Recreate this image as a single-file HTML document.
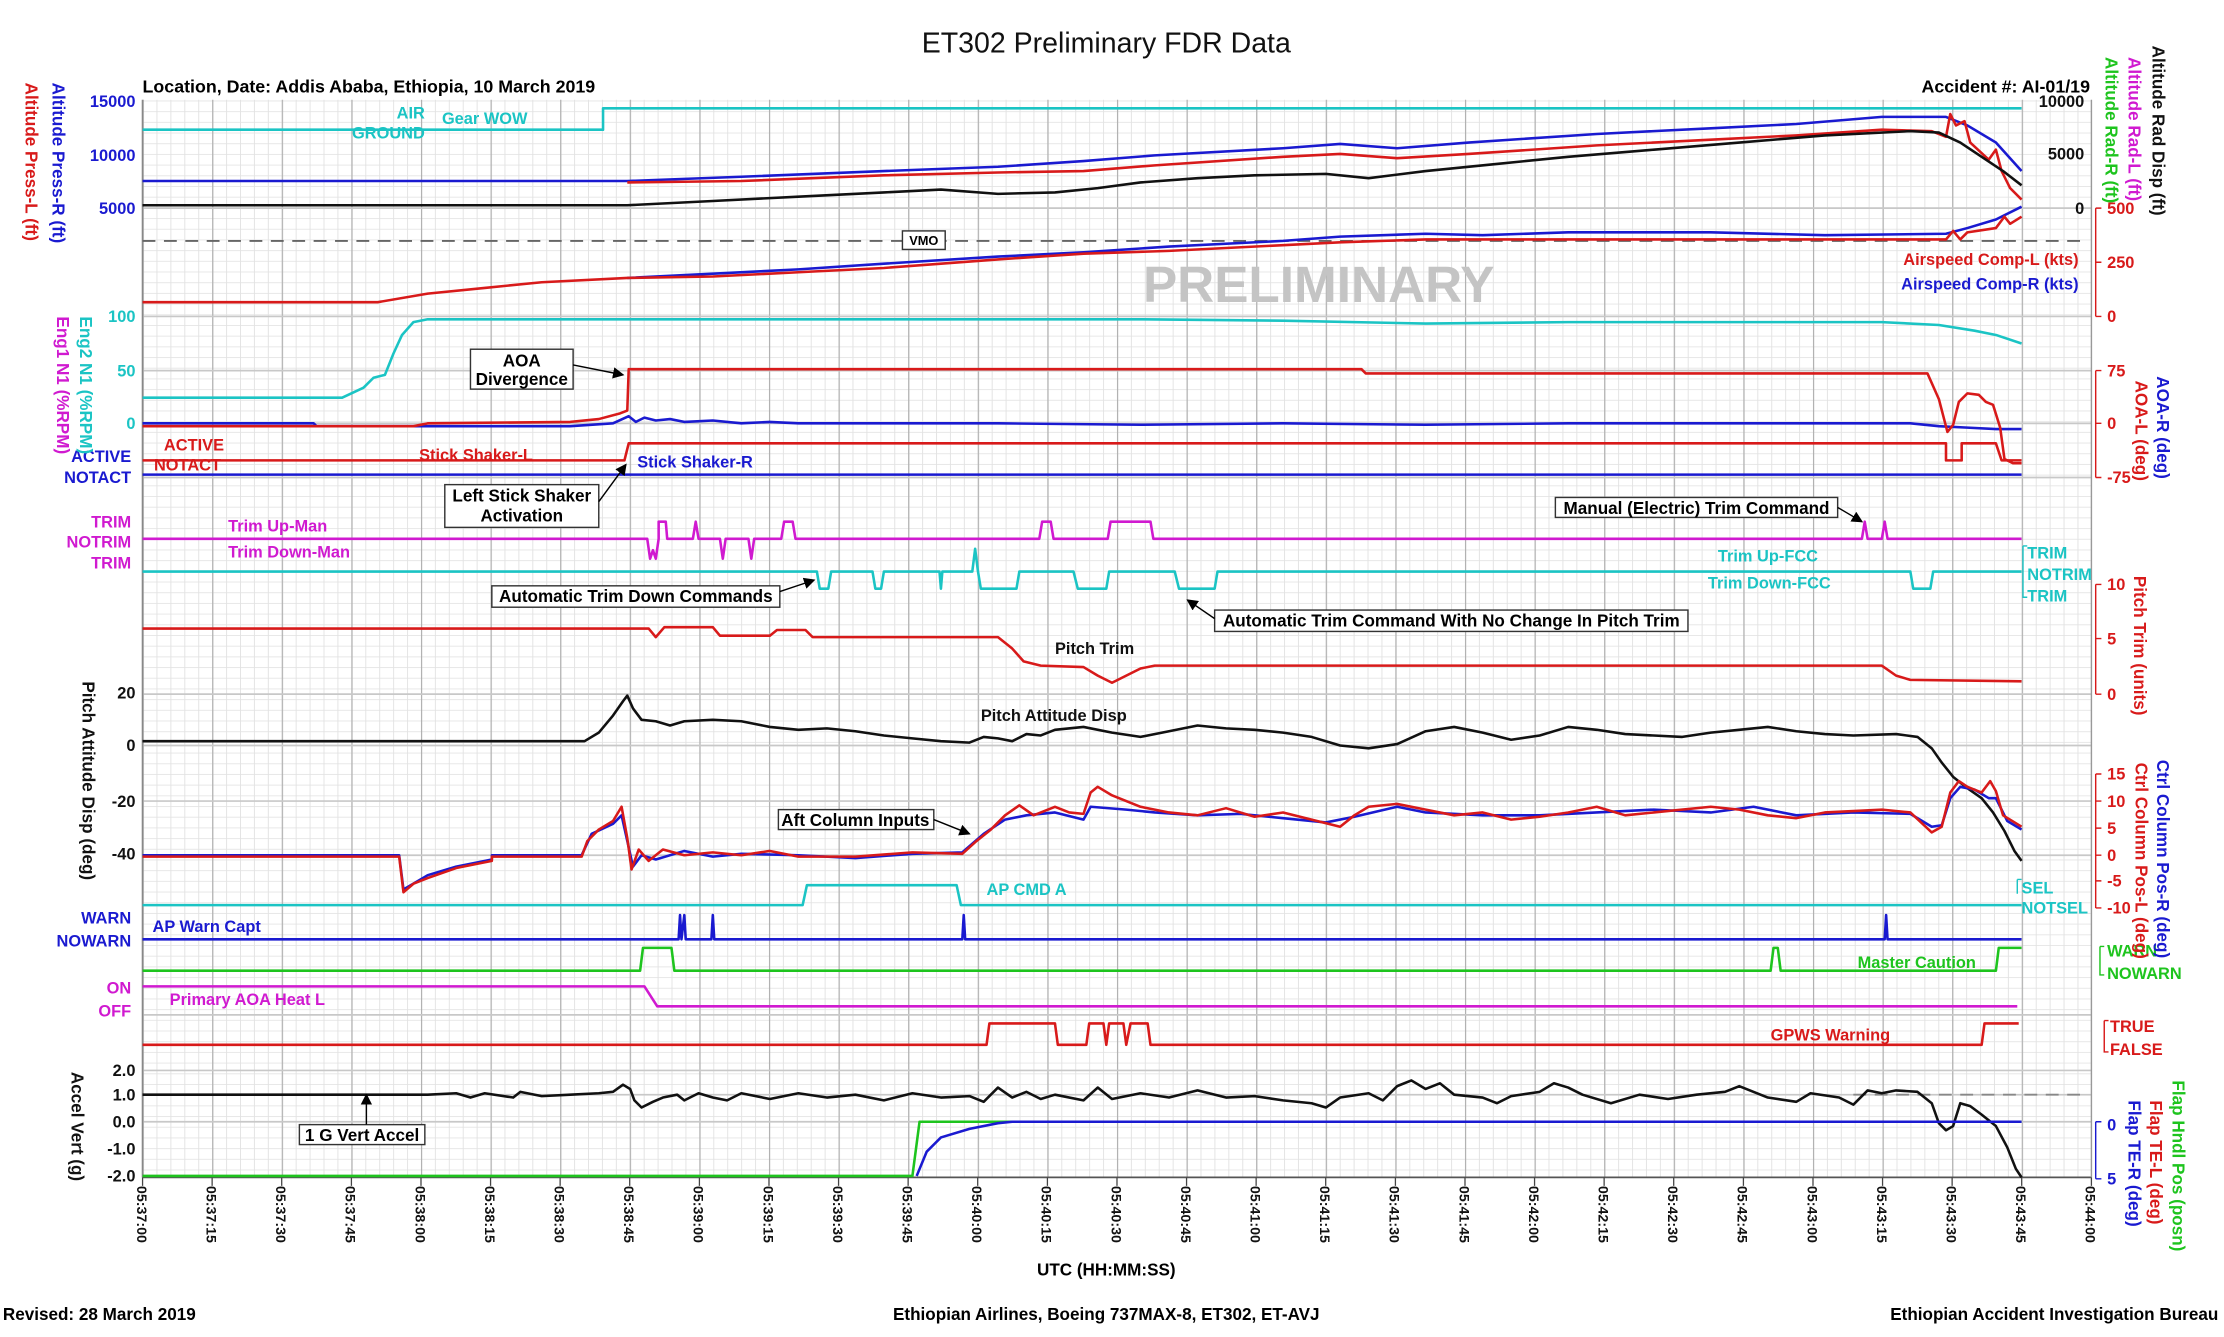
<!DOCTYPE html>
<html><head><meta charset="utf-8"><style>
html,body{margin:0;padding:0;background:#fff;}
svg{display:block;font-family:"Liberation Sans",Arial,sans-serif;font-size:11.5px;}
.b{font-weight:bold;}
.box{fill:#fff;stroke:#333;stroke-width:1;}
.dl{fill:none;stroke-width:1.8;stroke-linejoin:round;}
</style></head><body>
<svg width="2224" height="1337" viewBox="0 0 1560 938" preserveAspectRatio="none" xmlns="http://www.w3.org/2000/svg">
<defs>
<pattern id="gv" x="100" y="0" width="9.7643" height="10" patternUnits="userSpaceOnUse"><line x1="0.3" y1="0" x2="0.3" y2="10" stroke="#e2e2e2" stroke-width="0.7"/></pattern>
<pattern id="gh" x="0" y="70.5" width="10" height="7.5" patternUnits="userSpaceOnUse"><line x1="0" y1="0.3" x2="10" y2="0.3" stroke="#e6e6e6" stroke-width="0.7"/></pattern>
<pattern id="gm" x="100" y="0" width="48.82" height="10" patternUnits="userSpaceOnUse"><line x1="0.4" y1="0" x2="0.4" y2="10" stroke="#b0b0b0" stroke-width="0.9"/></pattern>
<marker id="ar" markerWidth="8" markerHeight="8" refX="7" refY="4" orient="auto"><path d="M0,0 L8,4 L0,8z" fill="#000"/></marker>
</defs>
<rect x="0" y="0" width="1560" height="938" fill="#fff"/>
<rect x="100" y="70" width="1367" height="756" fill="url(#gh)"/>
<rect x="100" y="70" width="1367" height="756" fill="url(#gv)"/>
<rect x="100" y="70" width="1367" height="756" fill="url(#gm)"/>
<g stroke="#c8c8c8" stroke-width="1.2">
<line x1="100" y1="146" x2="1467" y2="146"/><line x1="100" y1="222" x2="1467" y2="222"/>
<line x1="100" y1="260" x2="1467" y2="260"/><line x1="100" y1="297" x2="1467" y2="297"/>
<line x1="100" y1="335" x2="1467" y2="335"/><line x1="100" y1="487" x2="1467" y2="487"/>
<line x1="100" y1="523" x2="1467" y2="523"/><line x1="100" y1="562" x2="1467" y2="562"/>
<line x1="100" y1="600" x2="1467" y2="600"/><line x1="100" y1="751" x2="1467" y2="751"/>
<line x1="100" y1="768" x2="1467" y2="768"/><line x1="100" y1="787" x2="1467" y2="787"/>
<line x1="100" y1="712" x2="1467" y2="712"/>
</g>
<line x1="100" y1="70" x2="100" y2="826" stroke="#888" stroke-width="1.2"/>
<line x1="100" y1="826" x2="1467" y2="826" stroke="#555" stroke-width="1.2"/>
<line x1="1467" y1="70" x2="1467" y2="826" stroke="#999" stroke-width="1"/>
<g stroke="#444" stroke-width="0.9">
<path d="M100,826v6M148.8,826v6M197.6,826v6M246.5,826v6M295.3,826v6M344.1,826v6M392.9,826v6M441.7,826v6M490.6,826v6M539.4,826v6M588.2,826v6M637,826v6M685.8,826v6M734.7,826v6M783.5,826v6M832.3,826v6M881.1,826v6M929.9,826v6M978.8,826v6M1027.6,826v6M1076.4,826v6M1125.2,826v6M1174,826v6M1222.9,826v6M1271.7,826v6M1320.5,826v6M1369.3,826v6M1418.1,826v6M1467,826v6"/>
</g>
<g class="b" style="font-size:10px" fill="#111">
<text transform="translate(96,832) rotate(90)">05:37:00</text><text transform="translate(144.8,832) rotate(90)">05:37:15</text><text transform="translate(193.6,832) rotate(90)">05:37:30</text><text transform="translate(242.5,832) rotate(90)">05:37:45</text><text transform="translate(291.3,832) rotate(90)">05:38:00</text><text transform="translate(340.1,832) rotate(90)">05:38:15</text><text transform="translate(388.9,832) rotate(90)">05:38:30</text><text transform="translate(437.7,832) rotate(90)">05:38:45</text><text transform="translate(486.6,832) rotate(90)">05:39:00</text><text transform="translate(535.4,832) rotate(90)">05:39:15</text><text transform="translate(584.2,832) rotate(90)">05:39:30</text><text transform="translate(633,832) rotate(90)">05:39:45</text><text transform="translate(681.8,832) rotate(90)">05:40:00</text><text transform="translate(730.7,832) rotate(90)">05:40:15</text><text transform="translate(779.5,832) rotate(90)">05:40:30</text><text transform="translate(828.3,832) rotate(90)">05:40:45</text><text transform="translate(877.1,832) rotate(90)">05:41:00</text><text transform="translate(925.9,832) rotate(90)">05:41:15</text><text transform="translate(974.8,832) rotate(90)">05:41:30</text><text transform="translate(1023.6,832) rotate(90)">05:41:45</text><text transform="translate(1072.4,832) rotate(90)">05:42:00</text><text transform="translate(1121.2,832) rotate(90)">05:42:15</text><text transform="translate(1170,832) rotate(90)">05:42:30</text><text transform="translate(1218.9,832) rotate(90)">05:42:45</text><text transform="translate(1267.7,832) rotate(90)">05:43:00</text><text transform="translate(1316.5,832) rotate(90)">05:43:15</text><text transform="translate(1365.3,832) rotate(90)">05:43:30</text><text transform="translate(1414.1,832) rotate(90)">05:43:45</text><text transform="translate(1463,832) rotate(90)">05:44:00</text>
</g>
<text x="776" y="37" style="font-size:20px" text-anchor="middle" fill="#111">ET302 Preliminary FDR Data</text>
<text x="100" y="65" class="b" style="font-size:12.5px">Location, Date: Addis Ababa, Ethiopia, 10 March 2019</text>
<text x="1466" y="65" class="b" style="font-size:12.5px" text-anchor="end">Accident #: AI-01/19</text>
<text x="776" y="895" class="b" style="font-size:12px" text-anchor="middle">UTC (HH:MM:SS)</text>
<text x="2" y="926" class="b" style="font-size:12px">Revised: 28 March 2019</text>
<text x="776" y="926" class="b" style="font-size:12px" text-anchor="middle">Ethiopian Airlines, Boeing 737MAX-8, ET302, ET-AVJ</text>
<text x="1556" y="926" class="b" style="font-size:12px" text-anchor="end">Ethiopian Accident Investigation Bureau</text>
<text x="925" y="212" style="font-size:36px;font-weight:bold" fill="#c4c4c4" text-anchor="middle">PRELIMINARY</text>
<g class="b" text-anchor="end">
<text x="95" y="75" fill="#1a1ad0">15000</text><text x="95" y="113" fill="#1a1ad0">10000</text><text x="95" y="150" fill="#1a1ad0">5000</text>
<text x="95" y="226" fill="#1bc4c4">100</text><text x="95" y="264" fill="#1bc4c4">50</text><text x="95" y="301" fill="#1bc4c4">0</text>
<text x="95" y="490" fill="#111">20</text><text x="95" y="527" fill="#111">0</text><text x="95" y="566" fill="#111">-20</text><text x="95" y="603" fill="#111">-40</text>
<text x="95" y="755" fill="#111">2.0</text><text x="95" y="772" fill="#111">1.0</text><text x="95" y="791" fill="#111">0.0</text><text x="95" y="810" fill="#111">-1.0</text><text x="95" y="829" fill="#111">-2.0</text>
<text x="92" y="324" fill="#1a1ad0">ACTIVE</text><text x="92" y="339" fill="#1a1ad0">NOTACT</text>
<text x="92" y="370" fill="#d01ad0">TRIM</text><text x="92" y="384" fill="#d01ad0">NOTRIM</text><text x="92" y="399" fill="#d01ad0">TRIM</text>
<text x="92" y="648" fill="#1a1ad0">WARN</text><text x="92" y="664" fill="#1a1ad0">NOWARN</text>
<text x="92" y="697" fill="#d01ad0">ON</text><text x="92" y="713" fill="#d01ad0">OFF</text>
<text x="298" y="97" fill="#1bc4c4">GROUND</text><text x="298" y="83" fill="#1bc4c4">AIR</text>
</g>
<g class="b">
<text x="115" y="316" fill="#d81a1a">ACTIVE</text><text x="108" y="330" fill="#d81a1a">NOTACT</text>
<text x="310" y="87" fill="#1bc4c4">Gear WOW</text>
<text x="294" y="323" fill="#d81a1a">Stick Shaker-L</text><text x="447" y="328" fill="#1a1ad0">Stick Shaker-R</text>
<text x="160" y="373" fill="#d01ad0">Trim Up-Man</text><text x="160" y="391" fill="#d01ad0">Trim Down-Man</text>
<text x="1205" y="394" fill="#1bc4c4">Trim Up-FCC</text><text x="1198" y="413" fill="#1bc4c4">Trim Down-FCC</text>
<text x="740" y="459" fill="#111">Pitch Trim</text><text x="688" y="506" fill="#111">Pitch Attitude Disp</text>
<text x="692" y="628" fill="#1bc4c4">AP CMD A</text><text x="107" y="654" fill="#1a1ad0">AP Warn Capt</text>
<text x="1303" y="679" fill="#1ec41e">Master Caution</text><text x="119" y="705" fill="#d01ad0">Primary AOA Heat L</text>
<text x="1242" y="730" fill="#d81a1a">GPWS Warning</text>
<text x="1458" y="186" fill="#d81a1a" text-anchor="end">Airspeed Comp-L (kts)</text>
<text x="1458" y="203" fill="#1a1ad0" text-anchor="end">Airspeed Comp-R (kts)</text>
<text x="1422" y="392" fill="#1bc4c4">TRIM</text><text x="1422" y="407" fill="#1bc4c4">NOTRIM</text><text x="1422" y="422" fill="#1bc4c4">TRIM</text>
<text x="1418" y="627" fill="#1bc4c4">SEL</text><text x="1418" y="641" fill="#1bc4c4">NOTSEL</text>
<text x="1478" y="671" fill="#1ec41e">WARN</text><text x="1478" y="687" fill="#1ec41e">NOWARN</text>
<text x="1480" y="724" fill="#d81a1a">TRUE</text><text x="1480" y="740" fill="#d81a1a">FALSE</text>
<text x="1462" y="75" fill="#111" text-anchor="end">10000</text><text x="1462" y="112" fill="#111" text-anchor="end">5000</text><text x="1462" y="150" fill="#111" text-anchor="end">0</text>
<text x="1478" y="150" fill="#d81a1a">500</text><text x="1478" y="188" fill="#d81a1a">250</text><text x="1478" y="226" fill="#d81a1a">0</text>
<text x="1478" y="264" fill="#d81a1a">75</text><text x="1478" y="301" fill="#d81a1a">0</text><text x="1478" y="339" fill="#d81a1a">-75</text>
<text x="1478" y="414" fill="#d81a1a">10</text><text x="1478" y="452" fill="#d81a1a">5</text><text x="1478" y="491" fill="#d81a1a">0</text>
<text x="1478" y="547" fill="#d81a1a">15</text><text x="1478" y="566" fill="#d81a1a">10</text><text x="1478" y="585" fill="#d81a1a">5</text><text x="1478" y="604" fill="#d81a1a">0</text><text x="1478" y="622" fill="#d81a1a">-5</text><text x="1478" y="641" fill="#d81a1a">-10</text>
<text x="1478" y="793" fill="#1a1ad0">0</text><text x="1478" y="831" fill="#1a1ad0">5</text>
</g>
<g stroke="#d81a1a" stroke-width="1" fill="none">
<path d="M1470,146V222M1470,146h4M1470,184h4M1470,222h4"/>
<path d="M1470,260V335M1470,260h4M1470,297h4M1470,335h4"/>
<path d="M1470,410V487M1470,410h4M1470,448h4M1470,487h4"/>
<path d="M1470,543V637M1470,543h4M1470,562h4M1470,581h4M1470,600h4M1470,618h4M1470,637h4"/>
<path d="M1476,716v22h3M1476,716h3"/>
</g>
<path d="M1470,787V827M1470,787h4M1470,827h4" stroke="#1a1ad0" fill="none"/>
<path d="M1473,664v20h3M1473,664h3" stroke="#1ec41e" fill="none"/>
<path d="M1415,617v10M1415,617h3" stroke="#1bc4c4" fill="none"/>
<path d="M1419,383v36h3M1419,383h3" stroke="#1bc4c4" fill="none"/>
<g class="b" style="font-size:12px">
<text transform="translate(18,58) rotate(90)" fill="#d81a1a">Altitude Press-L (ft)</text>
<text transform="translate(37,58) rotate(90)" fill="#1a1ad0">Altitude Press-R (ft)</text>
<text transform="translate(40,222) rotate(90)" fill="#d01ad0">Eng1 N1 (%RPM)</text>
<text transform="translate(56,222) rotate(90)" fill="#1bc4c4">Eng2 N1 (%RPM)</text>
<text transform="translate(58,478) rotate(90)" fill="#111">Pitch Attitude Disp (deg)</text>
<text transform="translate(50,752) rotate(90)" fill="#111">Accel Vert (g)</text>
<text transform="translate(1510,32) rotate(90)" fill="#111">Altitude Rad Disp (ft)</text>
<text transform="translate(1493,40) rotate(90)" fill="#d01ad0">Altitude Rad-L (ft)</text>
<text transform="translate(1477,40) rotate(90)" fill="#1ec41e">Altitude Rad-R (ft)</text>
<text transform="translate(1513,264) rotate(90)" fill="#1a1ad0">AOA-R (deg)</text>
<text transform="translate(1498,267) rotate(90)" fill="#d81a1a">AOA-L (deg)</text>
<text transform="translate(1497,404) rotate(90)" fill="#d81a1a">Pitch Trim (units)</text>
<text transform="translate(1513,533) rotate(90)" fill="#1a1ad0">Ctrl Column Pos-R (deg)</text>
<text transform="translate(1498,535) rotate(90)" fill="#d81a1a">Ctrl Column Pos-L (deg)</text>
<text transform="translate(1524,758) rotate(90)" fill="#1ec41e">Flap Hndl Pos (posn)</text>
<text transform="translate(1508,772) rotate(90)" fill="#d81a1a">Flap TE-L (deg)</text>
<text transform="translate(1493,772) rotate(90)" fill="#1a1ad0">Flap TE-R (deg)</text>
</g>
<line x1="100" y1="169" x2="1462" y2="169" stroke="#666" stroke-width="1.3" stroke-dasharray="9,6"/>
<rect x="633" y="162" width="30" height="13" class="box"/><text x="648" y="172" class="b" style="font-size:9px" text-anchor="middle">VMO</text>
<line x1="1300" y1="768" x2="1465" y2="768" stroke="#888" stroke-width="1.3" stroke-dasharray="9,6"/>
<polyline class="dl" stroke="#1bc4c4" points="100,91 423,91 423,76 1418,76"/>
<polyline class="dl" stroke="#1a1ad0" points="100,127 440,127 520,124 620,120 700,117 760,113 810,109 900,104 940,101 980,104 1030,100 1120,94 1200,90 1260,87 1320,82 1365,82 1380,88 1400,100 1418,120"/>
<polyline class="dl" stroke="#d81a1a" points="440,128 520,127 620,123 700,121 760,120 810,116 900,110 940,108 980,111 1030,108 1120,102 1200,98 1260,95 1320,91 1355,92 1365,96 1368,80 1372,88 1378,85 1382,100 1395,112 1400,105 1404,120 1410,132 1418,140"/>
<polyline class="dl" stroke="#111" points="100,144 440,144 500,141 560,138 620,135 660,133 700,136 740,135 770,132 800,128 840,125 880,123 930,122 960,125 1000,120 1050,115 1100,110 1160,105 1220,100 1280,95 1340,92 1360,93 1375,100 1390,110 1405,120 1418,130"/>
<polyline class="dl" stroke="#1a1ad0" points="440,195 500,192 560,189 620,185 700,180 760,177 820,173 900,169 940,166 1000,164 1040,165 1100,163 1200,163 1280,165 1365,164 1380,160 1400,154 1418,145"/>
<polyline class="dl" stroke="#d81a1a" points="100,212 265,212 300,206 340,202 380,198 440,195 500,194 560,191 620,188 700,182 760,178 820,176 900,172 940,170 1000,168 1100,168 1200,168 1280,168 1365,168 1370,162 1375,168 1380,163 1400,160 1406,152 1410,157 1418,152"/>
<polyline class="dl" stroke="#1bc4c4" points="100,279 240,279 255,272 262,265 270,263 276,248 282,235 290,226 300,224 600,224 800,224 900,225 1000,227 1100,226 1200,226 1320,226 1360,228 1385,232 1400,235 1418,241"/>
<polyline class="dl" stroke="#1a1ad0" points="100,297 220,297 222,299 400,299 430,297 441,292 446,296 452,293 460,295 470,294 480,296 500,295 520,297 540,296 560,297 600,297 700,297 800,298 900,297 1000,298 1100,297 1200,297 1300,297 1340,297 1360,299 1380,300 1400,301 1418,301"/>
<polyline class="dl" stroke="#d81a1a" points="100,299 290,299 300,297 400,296 420,294 435,290 440,288 441,259 955,259 958,262 1352,262 1360,280 1366,303 1370,298 1374,282 1380,276 1388,277 1393,282 1398,284 1403,300 1406,322 1412,325 1418,325"/>
<polyline class="dl" stroke="#d81a1a" points="100,323 438,323 441,311 1365,311 1365,323 1376,323 1376,311 1400,311 1404,323 1418,323"/>
<polyline class="dl" stroke="#1a1ad0" points="100,333 1418,333"/>
<polyline class="dl" stroke="#d01ad0" points="100,378 454,378 456,392 458,386 460,392 462,378 462,366 467,366 468,378 486,378 488,366 490,378 505,378 507,392 509,378 525,378 527,392 529,378 548,378 550,366 556,366 558,378 729,378 731,366 737,366 739,378 777,378 779,366 807,366 809,378 1306,378 1308,366 1310,378 1320,378 1322,366 1324,378 1418,378"/>
<polyline class="dl" stroke="#1bc4c4" points="100,401 573,401 575,413 581,413 583,401 612,401 614,413 618,413 620,401 659,401 660,413 661,401 682,401 684,385 686,401 688,413 713,413 715,401 753,401 756,413 776,413 778,401 824,401 827,413 852,413 854,401 1340,401 1342,413 1354,413 1356,401 1418,401"/>
<polyline class="dl" stroke="#d81a1a" points="100,441 440,441 455,441 460,447 466,440 500,440 505,446 540,446 545,442 565,442 570,447 700,447 710,455 718,464 730,467 760,468 770,474 780,479 790,474 800,469 810,467 1000,467 1200,467 1320,467 1330,474 1340,477 1418,478"/>
<polyline class="dl" stroke="#111" points="100,520 410,520 420,514 430,502 437,492 440,488 444,497 450,505 460,506 470,509 480,506 500,505 520,506 540,510 560,512 580,511 600,513 620,516 640,518 660,520 680,521 690,517 700,518 710,520 720,515 730,516 740,512 760,510 780,514 800,517 820,513 840,509 860,511 880,512 900,514 920,517 940,523 960,525 980,522 1000,513 1020,510 1040,514 1060,519 1080,516 1100,510 1120,512 1140,515 1160,516 1180,517 1200,514 1220,512 1240,510 1260,513 1280,515 1300,516 1330,515 1345,517 1355,525 1362,535 1370,545 1380,553 1390,560 1398,570 1406,583 1413,597 1418,604"/>
<polyline class="dl" stroke="#1a1ad0" points="100,600 280,600 283,624 300,614 320,608 345,603 345,600 408,600 415,585 430,578 436,572 440,590 444,608 450,600 460,603 480,597 500,601 520,599 560,600 600,602 640,599 675,598 690,585 705,575 720,572 740,570 760,575 765,566 790,568 810,570 840,572 870,571 900,574 930,577 950,573 980,566 1000,570 1040,572 1080,572 1120,570 1160,568 1200,570 1230,566 1260,572 1300,570 1340,571 1355,580 1362,579 1368,560 1375,552 1385,554 1395,560 1400,560 1408,576 1418,582"/>
<polyline class="dl" stroke="#d81a1a" points="100,601 280,601 283,626 290,620 300,616 320,609 345,604 345,601 408,601 412,590 420,582 430,576 436,566 440,588 443,610 448,596 455,604 465,596 480,600 500,598 520,600 540,597 560,601 600,601 640,598 675,599 685,590 695,582 705,572 715,565 725,572 740,566 750,570 760,571 765,556 770,552 780,558 790,562 800,566 820,570 840,572 860,567 880,573 900,570 920,575 940,580 950,572 960,566 980,564 1000,568 1020,572 1040,570 1060,575 1080,573 1100,570 1120,566 1140,572 1160,570 1200,566 1220,568 1240,572 1260,574 1280,570 1300,569 1320,568 1340,570 1355,584 1362,580 1368,556 1374,548 1380,552 1390,556 1396,548 1400,555 1405,572 1418,580"/>
<polyline class="dl" stroke="#1bc4c4" points="100,635 563,635 566,621 671,621 674,635 1418,635"/>
<polyline class="dl" stroke="#1a1ad0" stroke-width="1.5" points="100,659 476,659 477,642 478,659 480,642 481,659 499,659 500,642 501,659 675,659 676,642 677,659 1322,659 1323,642 1324,659 1418,659"/>
<polyline class="dl" stroke="#1ec41e" points="100,681 449,681 451,665 471,665 473,681 1242,681 1244,665 1247,665 1249,681 1400,681 1402,665 1418,665"/>
<polyline class="dl" stroke="#d01ad0" points="100,692 452,692 461,706 1415,706"/>
<polyline class="dl" stroke="#d81a1a" points="100,733 692,733 694,718 740,718 742,733 762,733 764,718 774,718 776,733 778,718 788,718 790,733 793,718 805,718 807,733 1390,733 1392,718 1416,718"/>
<polyline class="dl" stroke="#111" stroke-width="1.5" points="100,768 300,768 320,767 330,770 340,767 360,770 365,766 380,769 400,768 420,767 430,766 437,761 442,764 445,772 450,777 458,773 465,770 475,768 480,772 490,767 500,770 510,772 520,767 540,771 560,767 580,770 600,768 620,772 640,767 660,770 680,769 690,773 700,763 710,770 720,766 730,771 740,768 760,772 770,763 780,771 800,767 820,770 840,765 860,770 880,769 900,772 920,774 930,777 940,770 960,767 970,772 980,762 990,758 1000,764 1010,760 1020,768 1040,770 1050,774 1060,769 1080,766 1090,760 1100,763 1110,768 1130,774 1150,768 1170,771 1190,768 1210,766 1220,762 1240,770 1260,773 1270,767 1290,770 1300,775 1310,765 1320,767 1330,765 1345,766 1355,774 1360,788 1365,793 1370,790 1375,774 1382,776 1390,782 1400,790 1408,805 1414,820 1418,826"/>
<polyline class="dl" stroke="#1ec41e" points="100,825 640,825 645,787 1418,787"/>
<polyline class="dl" stroke="#1a1ad0" points="643,825 650,808 660,798 680,792 700,788 710,787 1418,787"/>
<g class="b" style="font-size:12px">
<rect x="330" y="245" width="72" height="28" class="box"/><text x="366" y="257" text-anchor="middle">AOA</text><text x="366" y="270" text-anchor="middle">Divergence</text>
<line x1="402" y1="256" x2="437" y2="263" stroke="#000" marker-end="url(#ar)"/>
<rect x="312" y="340" width="108" height="30" class="box"/><text x="366" y="352" text-anchor="middle">Left Stick Shaker</text><text x="366" y="366" text-anchor="middle">Activation</text>
<line x1="420" y1="352" x2="439" y2="326" stroke="#000" marker-end="url(#ar)"/>
<rect x="345" y="411" width="202" height="15" class="box"/><text x="446" y="422.5" text-anchor="middle">Automatic Trim Down Commands</text>
<line x1="547" y1="415" x2="571" y2="407" stroke="#000" marker-end="url(#ar)"/>
<rect x="852" y="428" width="332" height="15" class="box"/><text x="1018" y="439.5" text-anchor="middle">Automatic Trim Command With No Change In Pitch Trim</text>
<line x1="852" y1="434" x2="833" y2="421" stroke="#000" marker-end="url(#ar)"/>
<rect x="1091" y="349" width="198" height="14" class="box"/><text x="1190" y="360.5" text-anchor="middle">Manual (Electric) Trim Command</text>
<line x1="1289" y1="356" x2="1306" y2="366" stroke="#000" marker-end="url(#ar)"/>
<rect x="546" y="568" width="109" height="14" class="box"/><text x="600" y="579.5" text-anchor="middle">Aft Column Inputs</text>
<line x1="655" y1="575" x2="680" y2="585" stroke="#000" marker-end="url(#ar)"/>
<rect x="210" y="789" width="88" height="14" class="box"/><text x="254" y="800.5" text-anchor="middle">1 G Vert Accel</text>
<line x1="257" y1="789" x2="257" y2="768" stroke="#000" marker-end="url(#ar)"/>
</g>
</svg>
</body></html>
